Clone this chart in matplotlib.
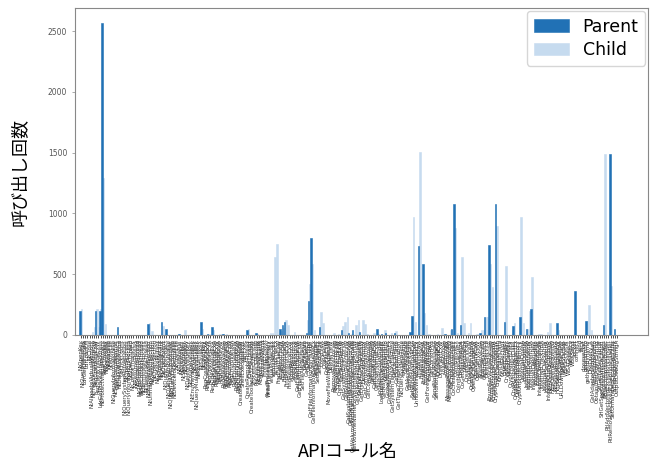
import matplotlib.pyplot as plt
import numpy as np

# API call names (x axis)
api_names = [
    "NtOpenKey", "NtQueryValueKey", "LdrGetDllHandle", "LdrLoadDll", "NtClose",
    "NtAllocateVirtualMemory", "NtFreeVirtualMemory", "RegOpenKeyExW", "RegQueryValueExW", "LdrGetProcedureAddress",
    "NtProtectVirtualMemory", "RegCloseKey", "NtCreateFile", "NtReadFile", "NtWriteFile",
    "NtQueryInformationFile", "NtSetInformationFile", "GetSystemMetrics", "NtDelayExecution", "GetTickCount",
    "NtQuerySystemInformation", "NtOpenProcess", "NtQueryInformationProcess", "NtOpenThread", "NtCreateThreadEx",
    "NtResumeThread", "NtSuspendThread", "NtGetContextThread", "NtSetContextThread", "NtTerminateProcess",
    "NtTerminateThread", "NtMapViewOfSection", "NtUnmapViewOfSection", "NtCreateSection", "NtOpenSection",
    "NtCreateMutant", "NtOpenMutant", "NtCreateEvent", "NtOpenEvent", "NtDuplicateObject",
    "NtQueryAttributesFile", "NtQueryFullAttributesFile", "NtQueryDirectoryFile", "NtDeviceIoControlFile", "NtOpenFile",
    "NtDeleteFile", "NtCreateKey", "NtSetValueKey", "NtDeleteKey", "NtDeleteValueKey",
    "NtEnumerateKey", "NtEnumerateValueKey", "NtQueryKey", "NtQueryMultipleValueKey", "NtRenameKey",
    "NtSaveKey", "NtLoadKey", "RegCreateKeyExA", "RegCreateKeyExW", "RegOpenKeyExA",
    "RegQueryValueExA", "RegSetValueExA", "RegSetValueExW", "RegDeleteKeyA", "RegDeleteKeyW",
    "RegDeleteValueA", "RegDeleteValueW", "RegEnumKeyExA", "RegEnumKeyExW", "RegEnumValueA",
    "RegEnumValueW", "RegQueryInfoKeyA", "RegQueryInfoKeyW", "CreateProcessInternalW", "ShellExecuteExW",
    "WinExec", "CreateRemoteThread", "CreateThread", "CreateToolhelp32Snapshot", "Process32FirstW",
    "Process32NextW", "Module32FirstW", "Module32NextW", "Thread32First", "Thread32Next",
    "ReadProcessMemory", "WriteProcessMemory", "VirtualProtectEx", "VirtualAllocEx", "VirtualFreeEx",
    "FindFirstFileExW", "FindNextFileW", "FindResourceA", "FindResourceW", "FindResourceExA",
    "FindResourceExW", "LoadResource", "SizeofResource", "LockResource", "GetFileAttributesW",
    "GetFileAttributesExW", "SetFileAttributesW", "GetFileSize", "GetFileSizeEx", "GetFileType",
    "GetFileInformationByHandle", "GetFileInformationByHandleEx", "SetFilePointer", "SetFilePointerEx", "SetEndOfFile",
    "CopyFileA", "CopyFileW", "CopyFileExW", "MoveFileWithProgressW", "DeleteFileW",
    "RemoveDirectoryA", "RemoveDirectoryW", "CreateDirectoryW", "CreateDirectoryExW", "GetTempPathW",
    "GetSystemDirectoryA", "GetSystemDirectoryW", "GetSystemWindowsDirectoryA", "GetSystemWindowsDirectoryW",
    "GetVolumePathNamesForVolumeNameW", "GetVolumeNameForVolumeMountPointW", "GetVolumePathNameW",
    "GetDiskFreeSpaceW", "GetDiskFreeSpaceExW", "DeviceIoControl", "GetComputerNameA", "GetComputerNameW",
    "GetUserNameA", "GetUserNameW", "GetUserNameExA", "GetUserNameExW", "LookupAccountSidW",
    "LookupPrivilegeValueW", "GetNativeSystemInfo", "GetSystemInfo", "GlobalMemoryStatus", "GlobalMemoryStatusEx",
    "GetSystemTimeAsFileTime", "GetLocalTime", "GetSystemTime", "GetTimeZoneInformation", "NtQuerySystemTime",
    "timeGetTime", "GetKeyState", "GetAsyncKeyState", "GetKeyboardState", "SetWindowsHookExA",
    "SetWindowsHookExW", "UnhookWindowsHookEx", "FindWindowA", "FindWindowW", "FindWindowExA",
    "FindWindowExW", "GetForegroundWindow", "EnumWindows", "GetCursorPos", "SendNotifyMessageA",
    "SendNotifyMessageW", "DrawTextExA", "DrawTextExW", "LoadStringA", "LoadStringW",
    "MessageBoxTimeoutA", "MessageBoxTimeoutW", "CoCreateInstance", "CoCreateInstanceEx", "CoInitializeEx",
    "CoInitializeSecurity", "CoUninitialize", "CoGetClassObject", "OleInitialize", "CreateServiceA",
    "CreateServiceW", "OpenSCManagerA", "OpenSCManagerW", "OpenServiceA", "OpenServiceW",
    "StartServiceA", "StartServiceW", "ControlService", "DeleteService", "EnumServicesStatusA",
    "EnumServicesStatusW", "CryptAcquireContextA", "CryptAcquireContextW", "CryptCreateHash", "CryptHashData",
    "CryptDecrypt", "CryptEncrypt", "CryptExportKey", "CryptGenKey", "CryptProtectData",
    "CryptUnprotectData", "CryptDecodeObjectEx", "CryptProtectMemory", "CryptUnprotectMemory", "InternetOpenA",
    "InternetOpenW", "InternetConnectA", "InternetConnectW", "InternetOpenUrlA", "InternetOpenUrlW",
    "InternetReadFile", "InternetWriteFile", "InternetCloseHandle", "InternetCrackUrlA", "InternetCrackUrlW",
    "InternetSetOptionA", "InternetQueryOptionA", "HttpOpenRequestA", "HttpOpenRequestW", "HttpSendRequestA",
    "HttpSendRequestW", "HttpQueryInfoA", "URLDownloadToFileW", "WSAStartup", "WSASocketW",
    "WSAConnect", "WSARecv", "WSASend", "socket", "connect",
    "send", "recv", "closesocket", "getaddrinfo", "gethostbyname",
    "DnsQuery_A", "GetAdaptersAddresses", "GetAdaptersInfo", "ObtainUserAgentString", "SHGetFolderPathW",
    "SHGetSpecialFolderLocation", "NtCreateUserProcess", "RtlDecompressBuffer", "RtlAddVectoredExceptionHandler",
    "RtlRemoveVectoredExceptionHandler", "SetUnhandledExceptionFilter", "IsDebuggerPresent", "OutputDebugStringA",
]

parent = [
    200, 0, 0, 0, 0, 0, 0, 200, 0, 200,
    2570, 0, 0, 0, 0, 0, 0, 64, 0, 0,
    0, 0, 0, 0, 0, 0, 0, 0, 0, 0,
    0, 92, 0, 0, 0, 0, 0, 105, 0, 52,
    0, 0, 0, 0, 0, 10, 0, 0, 0, 0,
    0, 0, 0, 0, 0, 103, 0, 0, 10, 0,
    64, 0, 0, 0, 0, 5, 0, 0, 0, 0,
    0, 0, 0, 0, 0, 0, 40, 0, 0, 0,
    14, 0, 0, 0, 0, 0, 0, 0, 0, 0,
    0, 50, 85, 106, 0, 0, 0, 0, 0, 0,
    0, 0, 0, 14, 278, 800, 0, 0, 0, 64,
    0, 0, 0, 0, 0, 0, 0, 0, 0, 43,
    0, 0, 14, 0, 40, 0, 0, 24, 0, 0,
    0, 0, 0, 0, 0, 50, 0, 8, 0, 14,
    0, 0, 0, 20, 0, 0, 0, 0, 0, 0,
    24, 155, 0, 0, 736, 0, 580, 0, 0, 0,
    0, 0, 0, 0, 0, 0, 8, 0, 0, 50,
    1079, 0, 0, 80, 0, 0, 0, 0, 0, 0,
    0, 0, 14, 0, 150, 0, 742, 0, 0, 1079,
    0, 0, 0, 110, 0, 0, 0, 70, 0, 0,
    150, 0, 0, 50, 0, 210, 0, 0, 0, 0,
    0, 0, 0, 0, 0, 0, 0, 100, 0, 0,
    0, 0, 0, 0, 0, 366, 0, 0, 0, 0,
    115, 0, 0, 0, 0, 0, 0, 0, 80, 0,
    0, 1490, 0, 50, 0,
]

child = [
    215, 0, 0, 0, 0, 23, 64, 215, 64, 215,
    1290, 92, 0, 0, 0, 0, 0, 0, 0, 0,
    0, 0, 0, 0, 0, 0, 0, 0, 0, 0,
    0, 100, 33, 0, 0, 0, 0, 78, 0, 0,
    0, 0, 0, 0, 0, 0, 0, 45, 0, 0,
    0, 0, 0, 0, 0, 50, 0, 0, 8, 0,
    45, 0, 0, 10, 10, 0, 10, 0, 0, 0,
    0, 0, 0, 0, 0, 0, 48, 0, 0, 0,
    10, 0, 0, 0, 0, 0, 14, 14, 645, 750,
    0, 30, 60, 127, 85, 0, 0, 22, 0, 0,
    0, 0, 0, 120, 421, 580, 40, 0, 0, 193,
    100, 0, 0, 0, 0, 18, 0, 10, 0, 70,
    110, 150, 0, 10, 0, 85, 127, 0, 127, 90,
    10, 0, 0, 18, 0, 8, 0, 0, 40, 0,
    0, 14, 0, 30, 0, 0, 0, 0, 0, 0,
    10, 969, 110, 0, 1509, 0, 180, 85, 10, 0,
    0, 0, 10, 0, 57, 0, 0, 0, 45, 0,
    882, 20, 0, 640, 95, 0, 15, 100, 0, 0,
    10, 0, 45, 45, 150, 150, 580, 393, 0, 893,
    0, 0, 0, 566, 0, 0, 40, 100, 0, 0,
    969, 100, 0, 50, 200, 475, 0, 0, 10, 10,
    0, 0, 25, 95, 0, 0, 0, 40, 0, 0,
    0, 0, 0, 0, 0, 0, 0, 0, 0, 0,
    115, 250, 40, 0, 0, 0, 0, 0, 1490, 0,
    0, 407, 0, 0, 0,
]

fig = plt.figure(figsize=(6.52, 4.66), dpi=100)
ax = fig.add_axes([75 / 652, 1 - 335 / 466, 573 / 652, 327 / 466])

x = np.arange(len(api_names))
ax.bar(x - 0.3, parent, width=0.7, color="#2171b5", edgecolor="#2171b5",
       linewidth=0.4, label="Parent", zorder=3)
ax.bar(x + 0.3, child, width=0.75, color="#c6dbef", edgecolor="#c6dbef",
       linewidth=0.4, label="Child", zorder=2)

ax.set_xlim(-2.6, 258)
ax.set_ylim(0, 2690)
ax.set_xticks(x)
ax.set_xticklabels(api_names, rotation=90, fontsize=4, color="#333333")
ax.tick_params(axis="x", length=2, width=0.5, pad=1)
ax.tick_params(axis="y", labelsize=5.5, labelcolor="#555555", length=2, width=0.5, color="#888888")
for s in ax.spines.values():
    s.set_color("#888888")
    s.set_linewidth(0.8)

ax.legend(loc="upper right", fontsize=12.5, handlelength=2.0, borderpad=0.4,
          labelspacing=0.3, borderaxespad=0.15)

fig.text(0.031, 1 - 171.5 / 466, "呼び出し回数", rotation=90, ha="center", va="center",
         fontsize=13, family=["Noto Sans CJK JP", "DejaVu Sans"])
fig.text(348 / 652, 1 - 452 / 466, "APIコール名", ha="center", va="center",
         fontsize=13, family=["Noto Sans CJK JP", "DejaVu Sans"])

fig.savefig("out.png", dpi=100)
